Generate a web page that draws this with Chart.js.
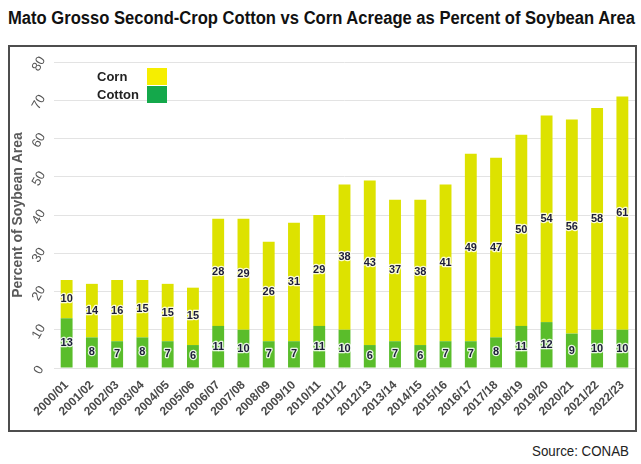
<!DOCTYPE html>
<html>
<head>
<meta charset="utf-8">
<script src="https://cdn.jsdelivr.net/npm/chart.js@4"></script>
<style>
  html, body { margin:0; padding:0; background:#fff; }
  body { width:641px; height:464px; position:relative; overflow:hidden; font-family:"Liberation Sans", Arial, sans-serif; }
  #title { position:absolute; left:8px; top:9px; font-weight:bold; font-size:18px; line-height:18px; color:#111; white-space:nowrap; transform-origin:left top; }
  #frame { position:absolute; left:8px; top:45px; width:625px; height:383px; border:2px solid #4d4d4d; }
  #frame canvas { position:absolute; left:0; top:0; }
  #source { position:absolute; top:443px; left:532px; font-size:15px; line-height:15px; color:#222; white-space:nowrap; transform-origin:left top; }
</style>
</head>
<body>
<div id="title">Mato Grosso Second-Crop Cotton vs Corn Acreage as Percent of Soybean Area</div>
<div id="frame"><canvas id="c" width="625" height="383"></canvas></div>
<div id="source">Source: CONAB</div>
<script>
const categories = ["2000/01","2001/02","2002/03","2003/04","2004/05","2005/06","2006/07","2007/08","2008/09","2009/10","2010/11","2011/12","2012/13","2013/14","2014/15","2015/16","2016/17","2017/18","2018/19","2019/20","2020/21","2021/22","2022/23"];
const cottonValues = [13,8,7,8,7,6,11,10,7,7,11,10,6,7,6,7,7,8,11,12,9,10,10];
const cornValues = [10,14,16,15,15,15,28,29,26,31,29,38,43,37,38,41,49,47,50,54,56,58,61];
const yTickLabels = ["0","10","20","30","40","50","60","70","80"];
const legendItems = [
  { label: "Corn", color: "#f6ee00" },
  { label: "Cotton", color: "#14a84b" }
];

function fitWidth(id, w) {
  const el = document.getElementById(id);
  const cw = el.getBoundingClientRect().width;
  el.style.transform = "scaleX(" + (w / cw) + ")";
}
fitWidth("title", 627);
fitWidth("source", 97);

const overlayPlugin = {
  id: "overlay",
  afterDraw(chart) {
    const ctx = chart.ctx;
    const y = chart.scales.y;
    // rotated y tick labels
    ctx.save();
    ctx.fillStyle = "#555";
    ctx.font = "13px 'Liberation Sans', Arial, sans-serif";
    ctx.textAlign = "center";
    ctx.textBaseline = "middle";
    yTickLabels.forEach(function (t) {
      const py = y.getPixelForValue(Number(t));
      ctx.save();
      ctx.translate(29, py + 2);
      ctx.rotate(-Math.PI / 3);
      ctx.fillText(t, 0, 0);
      ctx.restore();
    });
    ctx.restore();

    // legend (text then box)
    ctx.save();
    ctx.font = "bold 13px 'Liberation Sans', Arial, sans-serif";
    ctx.textBaseline = "middle";
    ctx.textAlign = "left";
    legendItems.forEach(function (it, i) {
      const cy = 30 + i * 18;
      ctx.fillStyle = "#222";
      ctx.fillText(it.label, 87, cy);
      ctx.fillStyle = it.color;
      ctx.fillRect(137, cy - 9, 20, 17);
    });
    ctx.restore();
  },
  afterDatasetsDraw(chart) {
    const ctx = chart.ctx;
    ctx.save();
    ctx.font = "bold 11px 'Liberation Sans Narrow', 'Liberation Sans', Arial, sans-serif";
    ctx.textAlign = "center";
    ctx.textBaseline = "middle";
    ctx.lineJoin = "round";
    chart.data.datasets.forEach(function (ds, di) {
      const meta = chart.getDatasetMeta(di);
      meta.data.forEach(function (bar, i) {
        const cy = (bar.y + bar.base) / 2;
        const txt = String(ds.data[i]);
        ctx.strokeStyle = "rgba(255,255,255,0.85)";
        ctx.lineWidth = 2.5;
        ctx.strokeText(txt, bar.x, cy);
        ctx.fillStyle = "#1c1c3a";
        ctx.fillText(txt, bar.x, cy);
      });
    });
    ctx.restore();
  }
};

new Chart(document.getElementById("c"), {
  type: "bar",
  data: {
    labels: categories,
    datasets: [
      { label: "Cotton", data: cottonValues, backgroundColor: "#5abd2b", stack: "s" },
      { label: "Corn", data: cornValues, backgroundColor: "#dde200", stack: "s" }
    ]
  },
  options: {
    responsive: false,
    animation: false,
    devicePixelRatio: 1,
    layout: { padding: { top: 15, right: 0, bottom: 0, left: 0 } },
    datasets: { bar: { barPercentage: 0.47, categoryPercentage: 1.0 } },
    plugins: { legend: { display: false }, tooltip: { enabled: false } },
    scales: {
      x: {
        stacked: true,
        grid: { display: false },
        border: { display: false },
        ticks: {
          minRotation: 45, maxRotation: 45, autoSkip: false, padding: 2,
          color: "#4a4a4a",
          font: { family: "'Liberation Sans', Arial, sans-serif", size: 12, weight: "bold" }
        },
        afterFit: function (s) { s.height = 62; }
      },
      y: {
        stacked: true,
        min: 0, max: 80,
        ticks: { stepSize: 10, display: false },
        grid: { color: "#e3e3e3", drawTicks: false },
        border: { display: false },
        title: {
          display: true, text: "Percent of Soybean Area", color: "#5a5a5a",
          padding: 0,
          font: { family: "'Liberation Sans', Arial, sans-serif", size: 14, weight: "bold" }
        },
        afterFit: function (s) { s.width = 44; }
      }
    }
  },
  plugins: [overlayPlugin]
});
</script>
</body>
</html>
